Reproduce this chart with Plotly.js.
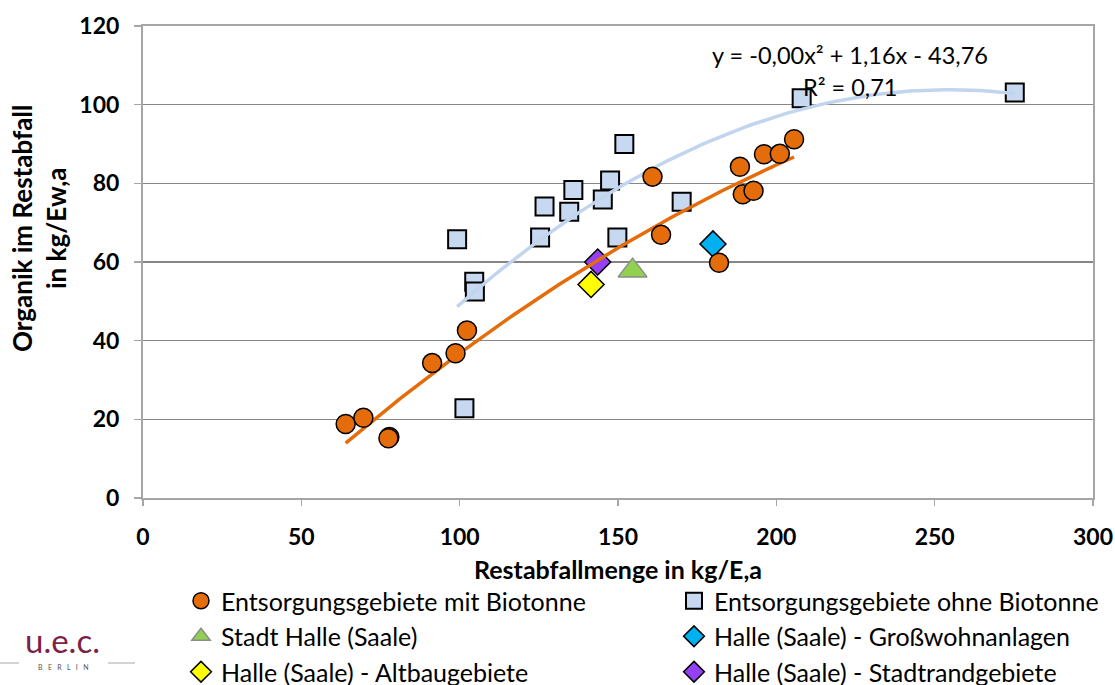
<!DOCTYPE html>
<html>
<head>
<meta charset="utf-8">
<script src="https://cdn.plot.ly/plotly-3.0.1.min.js"></script>
<style>html,body{margin:0;padding:0;background:#fff;}#chart{width:1115px;height:685px;}</style>
</head>
<body>
<div id="chart"></div>
<script>
// ---- data ----
const mitX = [64.0, 69.6, 77.8, 77.5, 91.3, 98.7, 102.3, 160.9, 163.6, 181.9, 188.5, 189.4, 192.8, 196.1, 201.1, 205.6];
const mitY = [18.8, 20.4, 15.5, 15.2, 34.3, 36.8, 42.6, 81.7, 66.9, 59.8, 84.2, 77.2, 78.1, 87.4, 87.5, 91.2];
const ohneX = [99.2, 104.6, 104.8, 101.5, 125.4, 126.8, 135.9, 134.6, 147.5, 145.2, 152.0, 149.8, 170.1, 208.0, 275.3];
const ohneY = [65.8, 55.0, 52.5, 22.8, 66.2, 74.1, 78.3, 72.8, 80.7, 75.9, 90.0, 66.2, 75.3, 101.6, 103.1];
const stadtX = [154.6], stadtY = [57.8];
const grossX = [180.0], grossY = [64.6];
const altX = [141.5], altY = [54.3];
const randX = [143.6], randY = [60.0];
const names = ['Entsorgungsgebiete mit Biotonne', 'Entsorgungsgebiete ohne Biotonne', 'Stadt Halle (Saale)',
  'Halle (Saale) - Großwohnanlagen', 'Halle (Saale) - Altbaugebiete', 'Halle (Saale) - Stadtrandgebiete'];
const xTicks = [0, 50, 100, 150, 200, 250, 300];
const yTicks = [0, 20, 40, 60, 80, 100, 120];
const eqText = 'y = -0,00x² + 1,16x - 43,76';
const r2Text = 'R² = 0,71';
const xTitle = 'Restabfallmenge in kg/E,a';
const yTitle = 'Organik im Restabfall<br>in kg/Ew,a';

// ---- quadratic least-squares trendline computed from the data ----
function polyfit2(xs, ys) {
  const S = [0, 0, 0, 0, 0], T = [0, 0, 0];
  for (let i = 0; i < xs.length; i++) {
    let p = 1;
    for (let k = 0; k <= 4; k++) { S[k] += p; if (k <= 2) T[k] += p * ys[i]; p *= xs[i]; }
  }
  const A = [[S[0], S[1], S[2], T[0]], [S[1], S[2], S[3], T[1]], [S[2], S[3], S[4], T[2]]];
  for (let c = 0; c < 3; c++) {
    let m = c; for (let r = c + 1; r < 3; r++) if (Math.abs(A[r][c]) > Math.abs(A[m][c])) m = r;
    [A[c], A[m]] = [A[m], A[c]];
    for (let r = 0; r < 3; r++) if (r !== c) { const f = A[r][c] / A[c][c]; for (let k = c; k < 4; k++) A[r][k] -= f * A[c][k]; }
  }
  return [A[0][3] / A[0][0], A[1][3] / A[1][1], A[2][3] / A[2][2]];
}
function trend(xs, ys) {
  const c = polyfit2(xs, ys);
  const lo = Math.min(...xs), hi = Math.max(...xs), n = 80;
  const tx = [], ty = [];
  for (let i = 0; i <= n; i++) { const x = lo + (hi - lo) * i / n; tx.push(x); ty.push(c[0] + c[1] * x + c[2] * x * x); }
  return [tx, ty];
}
const [mitTX, mitTY] = trend(mitX, mitY);
const [ohneTX, ohneTY] = trend(ohneX, ohneY);

// ---- layout geometry ----
const W = 1115, H = 685, ML = 143, MR = 22, MT = 26, MB = 187;
const PW = W - ML - MR, PH = H - MT - MB;
const px = x => (x - ML) / PW;
const py = y => (H - MB - y) / PH;
const FONT = 'Lato, "Open Sans", sans-serif';

const traces = [
  { x: ohneX, y: ohneY, name: names[1], type: 'scatter', mode: 'markers', legend: 'legend2', legendrank: 1,
    marker: { symbol: 'square', size: 18, color: '#C6D9F1', line: { color: '#000', width: 2 } } },
  { x: ohneTX, y: ohneTY, type: 'scatter', mode: 'lines', showlegend: false, hoverinfo: 'skip',
    line: { color: '#C2D5EE', width: 3.5 } },
  { x: stadtX, y: stadtY, name: names[2], type: 'scatter', mode: 'markers', legend: 'legend', legendrank: 2,
    marker: { symbol: 'triangle-up', size: 25, color: '#92D050', line: { color: '#8C8C8C', width: 1.5 } } },
  { x: grossX, y: grossY, name: names[3], type: 'scatter', mode: 'markers', legend: 'legend2', legendrank: 2,
    marker: { symbol: 'diamond', size: 20, color: '#00B0F0', line: { color: '#000', width: 1.5 } } },
  { x: altX, y: altY, name: names[4], type: 'scatter', mode: 'markers', legend: 'legend', legendrank: 3,
    marker: { symbol: 'diamond', size: 20, color: '#FFFF00', line: { color: '#000', width: 1.5 } } },
  { x: randX, y: randY, name: names[5], type: 'scatter', mode: 'markers', legend: 'legend2', legendrank: 3,
    marker: { symbol: 'diamond', size: 20, color: '#9540F2', line: { color: '#000', width: 1.5 } } },
  { x: mitTX, y: mitTY, type: 'scatter', mode: 'lines', showlegend: false, hoverinfo: 'skip',
    line: { color: '#E46C0A', width: 3.5 } },
  { x: mitX, y: mitY, name: names[0], type: 'scatter', mode: 'markers', legend: 'legend', legendrank: 1,
    marker: { symbol: 'circle', size: 19, color: '#E46C0A', line: { color: '#000', width: 1.5 } } }
];

const legendBase = {
  orientation: 'v', xanchor: 'left', yanchor: 'top', itemwidth: 30,
  font: { family: FONT, size: 25, color: '#000' }, bgcolor: 'rgba(0,0,0,0)', traceorder: 'normal'
};

const layout = {
  width: W, height: H,
  margin: { l: ML, r: MR, t: MT, b: MB, autoexpand: false },
  paper_bgcolor: '#fff', plot_bgcolor: '#fff',
  font: { family: FONT, color: '#000' },
  showlegend: true,
  xaxis: {
    range: [0, 300], tickvals: xTicks, ticktext: xTicks.map(String),
    showgrid: false, zeroline: false,
    showline: true, linecolor: '#A6A6A6', linewidth: 2, mirror: true,
    ticks: 'outside', ticklen: 6, tickcolor: '#A6A6A6', tickwidth: 1.5,
    tickfont: { family: FONT, size: 23, color: '#000', weight: 'bold' },
    ticklabelstandoff: 11,
    title: { text: xTitle, font: { family: FONT, size: 25, color: '#000', weight: 'bold' }, standoff: 13 }
  },
  yaxis: {
    range: [0, 120], tickvals: yTicks, ticktext: yTicks.map(String),
    showgrid: true, gridcolor: '#868686', gridwidth: 1.5, zeroline: false,
    showline: true, linecolor: '#A6A6A6', linewidth: 2, mirror: true,
    ticks: 'outside', ticklen: 7, tickcolor: '#A6A6A6', tickwidth: 1.5,
    tickfont: { family: FONT, size: 23, color: '#000', weight: 'bold' },
    ticklabelstandoff: 10
  },
  legend: Object.assign({}, legendBase, { x: px(181), y: py(578) }),
  legend2: Object.assign({}, legendBase, { x: px(674), y: py(578) }),
  annotations: [
    { text: yTitle, textangle: -90, xref: 'paper', yref: 'paper', x: px(39), y: py(229),
      xanchor: 'center', yanchor: 'middle', showarrow: false,
      font: { family: FONT, size: 26, color: '#000', weight: 'bold' } },
    { text: eqText, xref: 'paper', yref: 'paper', x: px(850), y: py(55), xanchor: 'center', yanchor: 'middle',
      showarrow: false, font: { family: FONT, size: 23.5, color: '#000' } },
    { text: r2Text, xref: 'paper', yref: 'paper', x: px(850), y: py(87), xanchor: 'center', yanchor: 'middle',
      showarrow: false, font: { family: FONT, size: 23.5, color: '#000' } },
    { text: 'u.e.c.', xref: 'paper', yref: 'paper', x: px(62), y: py(661), xanchor: 'center', yanchor: 'bottom',
      showarrow: false, borderpad: 0, font: { family: FONT, size: 33, color: '#7A1F48' } },
    { text: 'B   E   R   L   I   N', xref: 'paper', yref: 'paper', x: px(63), y: py(667), xanchor: 'center', yanchor: 'middle',
      showarrow: false, borderpad: 0, font: { family: FONT, size: 7, color: '#555' } }
  ],
  shapes: [
    { type: 'line', xref: 'paper', yref: 'paper', x0: px(0), x1: px(19), y0: py(663), y1: py(663),
      line: { color: '#C4C4C4', width: 1.5 } },
    { type: 'line', xref: 'paper', yref: 'paper', x0: px(108), x1: px(135), y0: py(663), y1: py(663),
      line: { color: '#C4C4C4', width: 1.5 } }
  ]
};

Plotly.newPlot('chart', traces, layout, { displayModeBar: false, staticPlot: true });
</script>
</body>
</html>
